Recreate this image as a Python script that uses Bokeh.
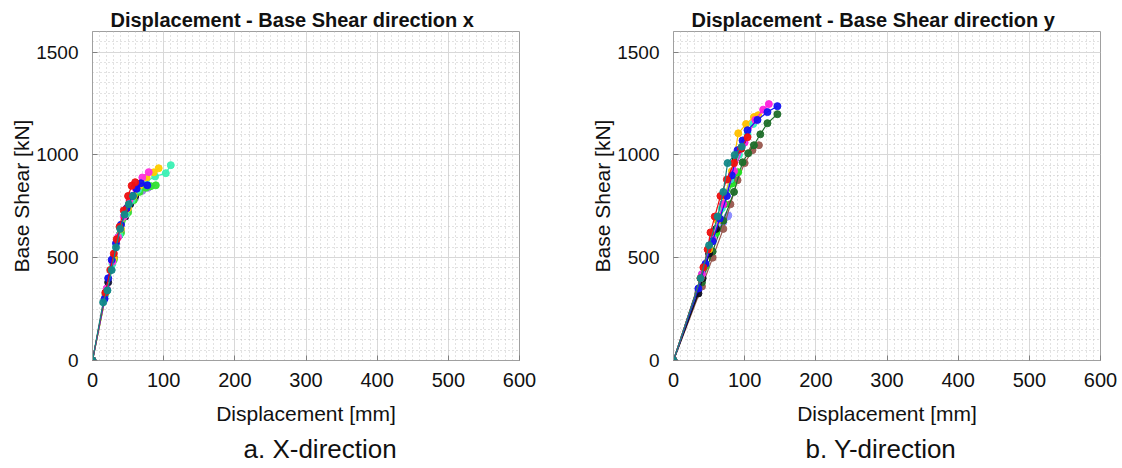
from bokeh.plotting import figure
from bokeh.layouts import row
from bokeh.models import SingleIntervalTicker, Range1d, Title
from bokeh.embed import file_html
from bokeh.resources import INLINE

# ---------------- data: direction x ----------------
x_red_d   = [0, 18, 25, 30, 34, 38, 44, 50, 55, 60]
x_red_v   = [0, 330, 440, 520, 590, 650, 730, 800, 850, 867]
x_blue_d  = [0, 17, 22, 27, 33, 40, 48, 56, 62, 68, 77]
x_blue_v  = [0, 300, 400, 490, 570, 660, 740, 800, 835, 862, 852]
x_mag_d   = [0, 20, 28, 36, 44, 52, 60, 70, 79]
x_mag_v   = [0, 350, 480, 600, 700, 780, 840, 890, 916]
x_gold_d  = [0, 20, 30, 40, 50, 58, 66, 76, 86, 93]
x_gold_v  = [0, 340, 500, 640, 740, 800, 850, 890, 915, 935]
x_aqua_d  = [0, 18, 28, 38, 47, 55, 64, 75, 88, 103, 110]
x_aqua_v  = [0, 320, 470, 610, 710, 780, 830, 870, 895, 911, 950]
x_green_d = [0, 20, 30, 40, 50, 58, 66, 75, 82, 89]
x_green_v = [0, 340, 490, 620, 720, 780, 820, 840, 848, 852]
x_teal_d  = [0, 15, 21, 27, 33, 39, 45, 51, 57]
x_teal_v  = [0, 283, 341, 440, 550, 640, 710, 760, 800]
x_navy_d  = [0, 22, 30, 38, 46, 53, 60]
x_navy_v  = [0, 380, 500, 610, 700, 760, 800]
x_purp_d  = [0, 20, 30, 40, 50, 60, 70, 78]
x_purp_v  = [0, 350, 500, 630, 730, 790, 825, 840]

# ---------------- data: direction y ----------------
y_blue_d  = [0, 35, 45, 55, 65, 75, 82, 90, 97, 104, 118, 132, 146]
y_blue_v  = [0, 350, 470, 580, 690, 800, 900, 1023, 1070, 1120, 1170, 1208, 1237]
y_mag_d   = [0, 40, 55, 70, 85, 100, 115, 126, 134]
y_mag_v   = [0, 420, 590, 760, 920, 1060, 1170, 1220, 1247]
y_dkgr_d  = [0, 40, 55, 70, 85, 97, 105, 113, 122, 132, 146]
y_dkgr_v  = [0, 380, 530, 680, 820, 964, 1008, 1047, 1100, 1154, 1198]
y_brown_d = [0, 40, 55, 70, 80, 90, 100, 111, 120]
y_brown_v = [0, 360, 500, 640, 760, 877, 960, 1023, 1047]
y_gold_d  = [0, 38, 50, 62, 72, 82, 91, 102, 113, 119]
y_gold_v  = [0, 400, 540, 680, 800, 920, 1105, 1150, 1184, 1193]
y_red_d   = [0, 38, 42, 48, 52, 58, 66, 75, 85, 95, 104]
y_red_v   = [0, 400, 453, 540, 623, 700, 800, 880, 960, 1030, 1086]
y_teal_d  = [0, 38, 50, 62, 70, 76, 86, 96]
y_teal_v  = [0, 400, 560, 700, 820, 960, 1000, 1040]
y_black_d = [0, 35, 41, 50, 60, 70, 80, 87, 95]
y_black_v = [0, 326, 400, 520, 640, 760, 880, 984, 1030]
y_lav_d   = [0, 35, 45, 55, 63, 70, 76, 77]
y_lav_v   = [0, 340, 460, 580, 640, 672, 700, 706]
y_green_d = [0, 45, 60, 72, 82, 91]
y_green_v = [0, 460, 620, 760, 860, 916]
y_aqua_d  = [0, 40, 55, 68, 80, 92, 104, 112]
y_aqua_v  = [0, 420, 600, 740, 880, 1000, 1100, 1150]

x_series = [
    (x_purp_d, x_purp_v, "#9b7fe0"),
    (x_navy_d, x_navy_v, "#101030"),
    (x_green_d, x_green_v, "#33e033"),
    (x_aqua_d, x_aqua_v, "#3cf0b4"),
    (x_gold_d, x_gold_v, "#ffcc00"),
    (x_mag_d, x_mag_v, "#ff33dd"),
    (x_blue_d, x_blue_v, "#1010ee"),
    (x_red_d, x_red_v, "#ee1111"),
    (x_teal_d, x_teal_v, "#0f8a8a"),
]
y_series = [
    (y_lav_d, y_lav_v, "#8c8cff"),
    (y_brown_d, y_brown_v, "#9a5a50"),
    (y_dkgr_d, y_dkgr_v, "#1f6e2a"),
    (y_green_d, y_green_v, "#22e022"),
    (y_black_d, y_black_v, "#101020"),
    (y_gold_d, y_gold_v, "#ffc000"),
    (y_aqua_d, y_aqua_v, "#33eec0"),
    (y_mag_d, y_mag_v, "#ff22dd"),
    (y_blue_d, y_blue_v, "#1515f0"),
    (y_red_d, y_red_v, "#ee1010"),
    (y_teal_d, y_teal_v, "#128888"),
]

x_ticks_interval = 100
y_ticks_interval = 500

FONT = "Liberation Sans"


def make_panel(title, caption, cap_offset, series, width, border_left, border_right):
    p = figure(width=width, height=468, output_backend="svg", toolbar_location=None,
               x_range=Range1d(0, 600), y_range=Range1d(0, 1600),
               min_border_left=border_left, min_border_right=border_right,
               min_border_top=31, min_border_bottom=108)
    p.title.text = title
    p.title.text_font = FONT
    p.title.text_font_size = "20px"
    p.title.text_font_style = "bold"
    p.title.align = "left"
    p.title.offset = 18
    p.title.standoff = 2
    p.title.text_color = "#111111"

    p.xaxis.ticker = SingleIntervalTicker(interval=x_ticks_interval, num_minor_ticks=10)
    p.yaxis.ticker = SingleIntervalTicker(interval=y_ticks_interval, num_minor_ticks=10)
    p.xgrid.ticker = p.xaxis.ticker
    p.ygrid.ticker = p.yaxis.ticker
    for ax in (p.xaxis, p.yaxis):
        ax.axis_line_color = "#a0a0a0"
        ax.major_tick_line_color = "#808080"
        ax.major_tick_in = 5
        ax.major_tick_out = 0
        ax.minor_tick_line_color = None
        ax.major_label_text_font = FONT
        ax.major_label_text_color = "#111111"
        ax.axis_label_text_font = FONT
        ax.axis_label_text_font_size = "21px"
        ax.axis_label_text_font_style = "normal"
        ax.axis_label_text_color = "#111111"
        ax.axis_label_text_line_height = 1.0
    p.xaxis.major_label_text_font_size = "20px"
    p.yaxis.major_label_text_font_size = "19px"
    p.xaxis.axis_label = "Displacement [mm]"
    p.yaxis.axis_label = "Base Shear [kN]"
    p.xaxis.major_label_standoff = 8
    p.yaxis.major_label_standoff = 10
    p.xaxis.axis_label_standoff = 12
    p.yaxis.axis_label_standoff = 0

    for g in (p.xgrid, p.ygrid):
        g.grid_line_color = "#d8d8d8"
        g.grid_line_width = 1
        g.minor_grid_line_color = "#c4c4c4"
        g.minor_grid_line_dash = "1 3"
        g.minor_grid_line_width = 1

    p.outline_line_color = "#a0a0a0"
    p.background_fill_color = "white"
    p.border_fill_color = "white"

    for d, v, c in series:
        p.line(d, v, line_color=c, line_width=1.2)
        p.scatter(d, v, size=7, fill_color=c, line_color=c, alpha=0.95)

    cap = Title(text=caption, align="left", offset=cap_offset, text_font=FONT,
                text_font_size="26px", text_font_style="normal",
                text_color="#111111", standoff=8, text_line_height=1.0)
    p.add_layout(cap, "below")
    return p


p1 = make_panel("Displacement - Base Shear direction x", "a. X-direction", 151,
                x_series, 560, 92, 41)
p2 = make_panel("Displacement - Base Shear direction y", "b. Y-direction", 132,
                y_series, 562, 113, 22)

p = row(p1, p2)
open("out.html", "w").write(file_html(p, INLINE))
